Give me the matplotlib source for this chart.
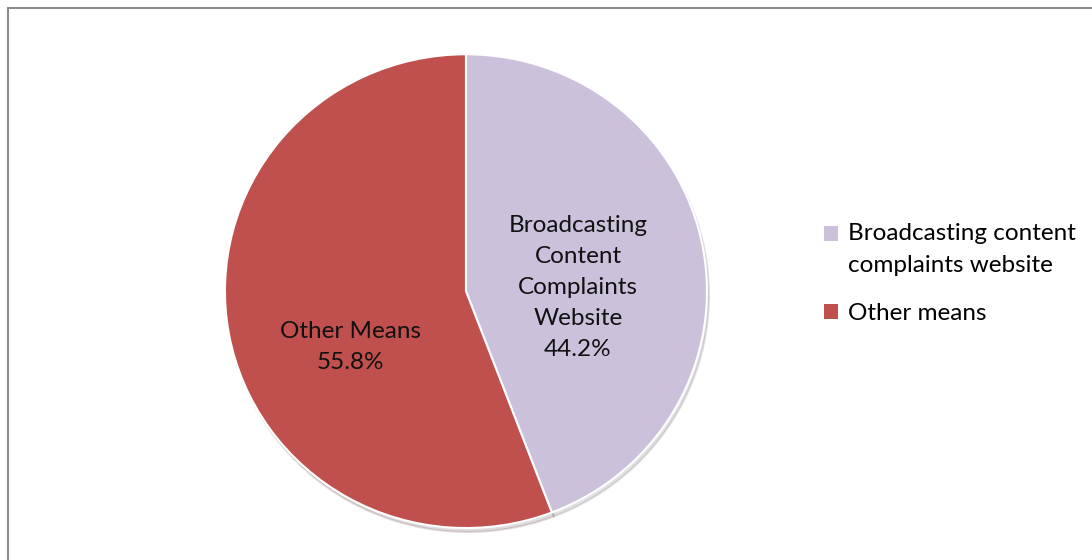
import matplotlib

matplotlib.use("Agg")

import matplotlib.pyplot as plt
from matplotlib.legend_handler import HandlerPatch
from matplotlib.patches import Patch, Rectangle

labels = ["Broadcasting\nContent\nComplaints\nWebsite", "Other Means"]
legend_labels = ["Broadcasting content\ncomplaints website", "Other means"]
shares = [44.2, 55.8]
colors = ["#CCC1DA", "#C0504D"]

plt.rcParams["font.family"] = ["Lato", "DejaVu Sans"]

fig = plt.figure(figsize=(10.92, 5.6), dpi=100)
fig.patches.append(Rectangle((0.0073, -0.1), 1.1, 1.0857, transform=fig.transFigure,
                             fill=False, edgecolor="#8C8C8C", linewidth=1.5))

ax = fig.add_axes([0.2060, 0.0571, 0.4414, 0.846])
wedges, _ = ax.pie(shares, colors=colors, startangle=90, counterclock=False,
                   wedgeprops={"edgecolor": "white", "linewidth": 1.5},
                   shadow={"ox": 0.006, "oy": -0.012, "alpha": 0.15})
ax.set_xlim(-1, 1)
ax.set_ylim(-1, 1)
ax.set_aspect("auto")

# data labels, placed like the original
label_pos = [(0.465, 0.015), (-0.48, -0.235)]
for lab, val, (x, y) in zip(labels, shares, label_pos):
    ax.text(x, y, f"{lab}\n{val:.1f}%", ha="center", va="center",
            fontsize=17.5, linespacing=1.6, color="#111111")


def first_line_square(legend, orig_handle, xdescent, ydescent, width, height, fontsize):
    # keep the swatch level with the first text line, as Excel does
    return Rectangle((-xdescent, -ydescent + 0.66 * fontsize), width, height)


handles = [Patch(facecolor=c, edgecolor="none") for c in colors]
leg = fig.legend(handles, legend_labels, loc="upper left", bbox_to_anchor=(0.735, 0.64),
                 frameon=False, fontsize=17.5, handlelength=0.55, handleheight=0.55,
                 handletextpad=0.4, labelspacing=1.12,
                 handler_map={handles[0]: HandlerPatch(patch_func=first_line_square)})
for t in leg.get_texts():
    t.set_linespacing(1.6)

fig.savefig("out.png", dpi=100)
